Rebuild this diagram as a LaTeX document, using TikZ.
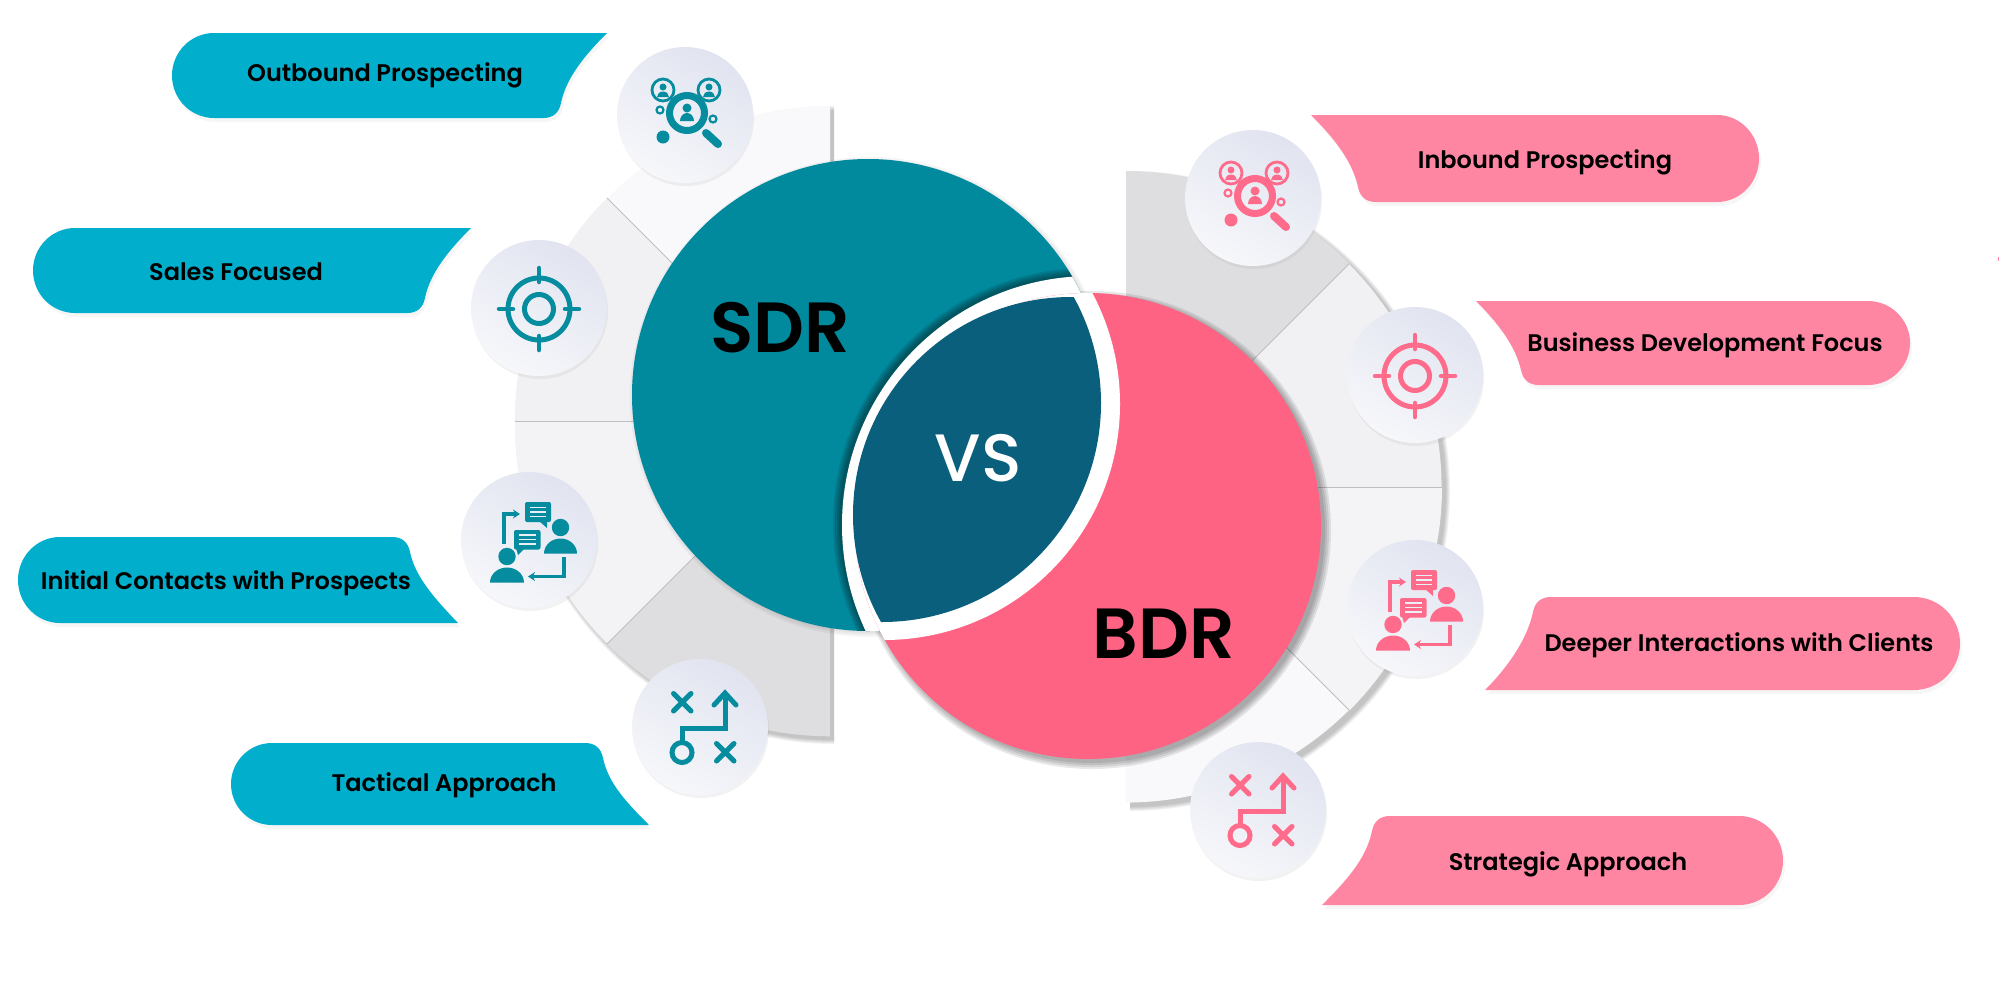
\documentclass[tikz,border=0pt]{standalone}
\usepackage{fontspec}
\setmainfont{Poppins}[UprightFont=* Medium,BoldFont=* SemiBold]
\usetikzlibrary{arrows.meta,shadows}

\definecolor{sdrink}{HTML}{058C9E}
\definecolor{bdrink}{HTML}{FF6B8A}
\definecolor{sdrfill}{HTML}{018A9E}
\definecolor{bdrfill}{HTML}{FF6383}
\definecolor{vsfill}{HTML}{0A5F7C}
\definecolor{sdrlabel}{HTML}{01AFCC}
\definecolor{bdrlabel}{HTML}{FF86A3}
\definecolor{ballin}{HTML}{EEEFF6}
\definecolor{balltop}{HTML}{E1E4F0}
\definecolor{wedgea}{HTML}{F9F9FC}
\definecolor{wedgeb}{HTML}{F1F0F3}
\definecolor{wedgec}{HTML}{DEDDDF}

\tikzset{
    labelbox/.style={drop shadow={opacity=.07,shadow xshift=2pt,shadow yshift=-4pt}},
    labeltext/.style={font=\bfseries\fontsize{24}{24}\selectfont,text height=18pt,text depth=6pt,inner sep=0pt},
    seam/.style={color=black!25,line width=1pt},
    iconball/.style={circle,minimum size=136pt,inner sep=0pt,outer sep=0pt,left color=balltop,right color=white!50!ballin,shading angle=-30,drop shadow={opacity=.10,shadow xshift=1pt,shadow yshift=-3pt}},
    searchicon/.pic={
        \draw[#1,line width=2.8pt] (-22,-25) circle (11) (24,-25) circle (11);
        \fill[#1] (-22,-28) circle (3.5) (24,-28) circle (3.5);
        \fill[#1] (-28,-18) arc[start angle=180,end angle=360,x radius=6,y radius=5.5] -- cycle;
        \fill[#1] (18,-18) arc[start angle=180,end angle=360,x radius=6,y radius=5.5] -- cycle;
        \draw[#1,line width=7pt] (2,-2) circle (17.5);
        \fill[#1] (2,-7) circle (4.5);
        \fill[#1] (-5,6) arc[start angle=180,end angle=360,x radius=7,y radius=8] -- cycle;
        \draw[#1,line width=8pt,line cap=round] (21,18) -- (33,29);
        \draw[#1,line width=2.2pt] (-25,-5) circle (3.5) (28,4) circle (3.5);
        \fill[#1] (-22,22) circle (6.5);
    },
    targeticon/.pic={
        \draw[#1,line width=5pt] (0,1) circle (31) (0,1) circle (14.5);
        \draw[#1,line width=4.5pt,line cap=round] (0,-40) -- (0,-26) (0,42) -- (0,28) (-40,1) -- (-26,1) (40,1) -- (26,1);
    },
    talkicon/.pic={
        \fill[#1,rounded corners=2pt] (-4,-38) rectangle (22,-18);
        \fill[#1] (10,-19) -- (18,-12) -- (18,-19) -- cycle;
        \draw[ballin,line width=1.8pt] (1,-32.5) -- (17,-32.5) (1,-28) -- (17,-28) (1,-23.5) -- (17,-23.5);
        \fill[#1,rounded corners=2pt] (-15,-10) rectangle (11.5,9.5);
        \fill[#1] (-13,8) -- (-11,15) -- (-4,8) -- cycle;
        \draw[ballin,line width=1.8pt] (-10,-5) -- (7,-5) (-10,-.5) -- (7,-.5) (-10,4) -- (7,4);
        \fill[#1] (31.5,-12.5) circle (8.7);
        \fill[#1] (15,13.5) arc[start angle=180,end angle=360,x radius=16.5,y radius=15] -- cycle;
        \fill[#1] (-22,16.5) circle (8.7);
        \fill[#1] (-39,42.5) arc[start angle=180,end angle=360,x radius=17,y radius=15] -- cycle;
        \draw[#1,line width=3.2pt,-{Stealth[length=7pt,width=9pt]}] (-25,4) -- (-25,-26) -- (-9,-26);
        \draw[#1,line width=3.2pt,-{Stealth[length=7pt,width=9pt]}] (35,17) -- (35,36.5) -- (-1,36.5);
    },
    planicon/.pic={
        \draw[#1,line width=5pt,line cap=round] (-26.5,-33.5) -- (-9,-16) (-9,-33.5) -- (-26.5,-16);
        \draw[#1,line width=5pt,line cap=round] (16.5,16.5) -- (34,34) (34,16.5) -- (16.5,34);
        \draw[#1,line width=5pt,line cap=round,line join=miter] (-18,15) -- (-18,1) -- (25,1) -- (25,-33);
        \draw[#1,line width=5pt,line cap=round,line join=miter] (14,-22) -- (25,-34) -- (36,-22);
        \draw[#1,line width=5pt] (-18,25.5) circle (10);
    },
}

\begin{document}
\begin{tikzpicture}[x=1pt,y=-1pt]
    \useasboundingbox (0,0) rectangle (1999,1002);

    \foreach \d in {0,1,2,3,4}
        \fill[black,opacity=.05] (830+4,421+4) -- ++(0,-315-\d) arc[start angle=-90,end angle=-270,radius=315+\d] -- cycle;
    \fill[wedgea] (830,421) -- (830,106) arc[start angle=-90,end angle=-135,radius=315] -- cycle;
    \fill[wedgeb] (830,421) -- (607,198) arc[start angle=-135,end angle=-180,radius=315] -- cycle;
    \fill[wedgeb!80!wedgea] (830,421) -- (515,421) arc[start angle=-180,end angle=-225,radius=315] -- cycle;
    \fill[wedgec] (830,421) -- (607,644) arc[start angle=-225,end angle=-270,radius=315] -- cycle;
    \draw[seam] (830,421) -- (607,198);
    \draw[seam] (830,421) -- (515,421);
    \draw[seam] (830,421) -- (607,644);

    \foreach \d in {0,1,2,3,4}
        \fill[black,opacity=.05] (1126+4,487+4) -- ++(0,-316-\d) arc[start angle=-90,end angle=90,radius=316+\d] -- cycle;
    \fill[wedgec] (1126,487) -- (1126,171) arc[start angle=-90,end angle=-45,radius=316] -- cycle;
    \fill[wedgeb] (1126,487) -- (1349,264) arc[start angle=-45,end angle=0,radius=316] -- cycle;
    \fill[wedgeb!60!wedgea] (1126,487) -- (1442,487) arc[start angle=0,end angle=45,radius=316] -- cycle;
    \fill[wedgea] (1126,487) -- (1349,710) arc[start angle=45,end angle=90,radius=316] -- cycle;
    \draw[seam] (1126,487) -- (1349,264);
    \draw[seam] (1126,487) -- (1442,487);
    \draw[seam] (1126,487) -- (1349,710);

    \foreach \d in {0,2,4,6}
        \fill[black,opacity=.09] (1092,530) circle (233+\d);
    \foreach \d in {0,2,4}
        \fill[black,opacity=.04] (870,397) circle (236+\d);

    \fill[sdrfill] (868,395) circle (236);
    \begin{scope}
        \clip (868,395) circle (236);
        \foreach \d in {0,2,4,6}
            \fill[black,opacity=.11] (1088,523) circle (249+\d);
        \fill[white] (1091,525) circle (249);
    \end{scope}

    \fill[bdrfill] (1088,526) circle (233);
    \begin{scope}
        \clip (1088,526) circle (233);
        \fill[white] (884,404) circle (236);
    \end{scope}
    \begin{scope}
        \clip (882,403) circle (219);
        \fill[vsfill] (1071,515) circle (218);
    \end{scope}

    \fill[sdrlabel,labelbox] (607,33) -- (214,33) arc[start angle=-90,end angle=-270,x radius=42,y radius=42.5] -- (543,118) .. controls (553,118) and (559,113) .. (561,103) .. controls (566,78) and (585,55) .. (607,33) -- cycle;
    \fill[sdrlabel,labelbox] (471,228) -- (75,228) arc[start angle=-90,end angle=-270,x radius=42,y radius=42.5] -- (407,313) .. controls (417,313) and (423,308) .. (425,298) .. controls (430,273) and (449,250) .. (471,228) -- cycle;
    \fill[sdrlabel,labelbox] (458,623) -- (60,623) arc[start angle=90,end angle=270,x radius=42,y radius=43] -- (392,537) .. controls (402,537) and (408,542) .. (410,552) .. controls (415,577) and (436,600) .. (458,623) -- cycle;
    \fill[sdrlabel,labelbox] (649,825) -- (272,825) arc[start angle=90,end angle=270,x radius=41,y radius=41] -- (585,743) .. controls (595,743) and (601,748) .. (603,758) .. controls (608,783) and (627,803) .. (649,825) -- cycle;

    \fill[bdrlabel,labelbox] (1311,115) -- (1717,115) arc[start angle=-90,end angle=90,x radius=42,y radius=43.5] -- (1376,202) .. controls (1366,202) and (1360,197) .. (1358,187) .. controls (1352,160) and (1333,137) .. (1311,115) -- cycle;
    \fill[bdrlabel,labelbox] (1476,301) -- (1868,301) arc[start angle=-90,end angle=90,x radius=42,y radius=42] -- (1539,385) .. controls (1529,385) and (1523,380) .. (1521,370) .. controls (1515,345) and (1498,323) .. (1476,301) -- cycle;
    \fill[bdrlabel,labelbox] (1485,690) -- (1914,690) arc[start angle=90,end angle=-90,x radius=46,y radius=46.5] -- (1551,597) .. controls (1541,597) and (1535,602) .. (1533,612) .. controls (1527,640) and (1507,668) .. (1485,690) -- cycle;
    \fill[bdrlabel,labelbox] (1322,905) -- (1739,905) arc[start angle=90,end angle=-90,x radius=44,y radius=44.5] -- (1390,816) .. controls (1380,816) and (1374,821) .. (1372,831) .. controls (1366,860) and (1344,883) .. (1322,905) -- cycle;
    \fill[bdrlabel] (1997.5,256.7) rectangle (1999,260.7);

    \node[iconball] (sdrball1) at (685,115) {};
    \node[iconball] (sdrball2) at (539,308) {};
    \node[iconball] (sdrball3) at (529,540) {};
    \node[iconball] (sdrball4) at (700,727) {};
    \node[iconball] (bdrball1) at (1253,198) {};
    \node[iconball] (bdrball2) at (1415,375) {};
    \node[iconball] (bdrball3) at (1415,608) {};
    \node[iconball] (bdrball4) at (1258,810) {};

    \pic at (685,115) {searchicon=sdrink};
    \pic at (539,308) {targeticon=sdrink};
    \pic at (529,540) {talkicon=sdrink};
    \pic at (700,727) {planicon=sdrink};
    \pic at (1253,198) {searchicon=bdrink};
    \pic at (1415,375) {targeticon=bdrink};
    \pic at (1415,608) {talkicon=bdrink};
    \pic at (1258,810) {planicon=bdrink};

    \node[labeltext] (sdrtext1) at (385,75.5) {Outbound Prospecting};
    \node[labeltext] (sdrtext2) at (236,274) {Sales Focused};
    \node[labeltext] (sdrtext3) at (226,583.5) {Initial Contacts with Prospects};
    \node[labeltext] (sdrtext4) at (444,785.5) {Tactical Approach};
    \node[labeltext] (bdrtext1) at (1545,162) {Inbound Prospecting};
    \node[labeltext] (bdrtext2) at (1705,345) {Business Development Focus};
    \node[labeltext] (bdrtext3) at (1739,645.5) {Deeper Interactions with Clients};
    \node[labeltext] (bdrtext4) at (1568,864) {Strategic Approach};

    \node[font=\bfseries\fontsize{71}{71}\selectfont] (sdrname) at (780,328) {SDR};
    \node[font=\bfseries\fontsize{71}{71}\selectfont] (bdrname) at (1164,634) {BDR};
    \node[font=\fontsize{67}{67}\selectfont,white] (vsname) at (978,458) {VS};
\end{tikzpicture}
\end{document}
